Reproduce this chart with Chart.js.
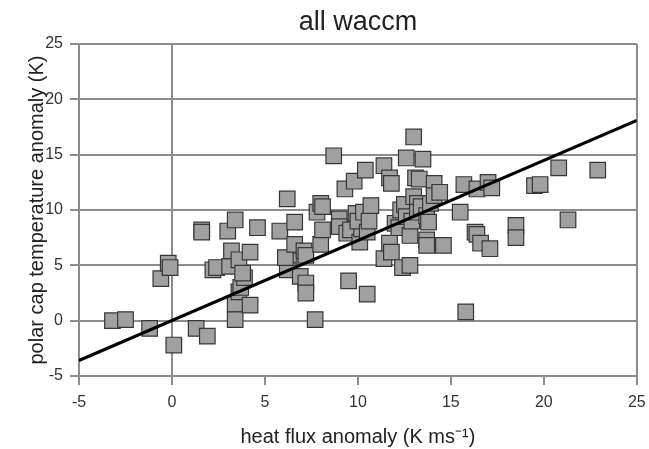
<!DOCTYPE html>
<html>
<head>
<meta charset="utf-8">
<script src="https://cdn.jsdelivr.net/npm/chart.js@4.4.0/dist/chart.umd.min.js"></script>
<style>
  html, body { margin: 0; padding: 0; background: #fff; }
  #wrap { width: 649px; height: 449px; }
</style>
</head>
<body>
<div id="wrap"><canvas id="grafik"></canvas></div>
<script>
// heat flux anomaly (x) vs polar cap temperature anomaly (y)
const fluxValues = [
  -3.2, -2.5, -1.2, -0.6, -0.2, -0.1, 0.1, 1.3, 1.6, 1.6, 1.9, 2.2, 2.4,
  3.0, 3.1, 3.2, 3.4, 3.4, 3.4, 3.6, 3.6, 3.7, 3.9, 3.8, 4.2, 4.2, 4.6,
  5.8, 6.2, 6.3, 6.2, 6.1, 6.6, 6.6, 6.9, 7.1, 7.2, 7.2, 7.2, 7.7,
  7.8, 8.0, 8.1, 8.0, 8.1, 8.7, 9.0, 9.0, 9.3, 9.4, 9.5, 9.8, 9.9, 9.6,
  10.1, 10.2, 10.0, 10.3, 10.4, 10.5, 10.5, 10.6, 10.7, 11.4, 11.4, 11.7,
  11.8, 11.7, 11.8, 12.0, 12.2, 12.3, 12.4, 12.5, 12.6, 12.6, 12.8, 12.8,
  12.9, 13.0, 13.0, 13.1, 13.3, 13.2, 13.2, 13.5, 13.4, 13.7, 13.8, 13.7,
  13.7, 13.9, 14.1, 14.1, 14.4, 14.6, 15.5, 15.7, 15.8, 16.3, 16.4, 16.4,
  16.6, 17.0, 17.2, 17.1, 18.5, 18.5, 19.5, 19.8, 20.8, 21.3, 22.9
];
const tempValues = [
  0.0, 0.1, -0.7, 3.8, 5.2, 4.8, -2.2, -0.7, 8.2, 8.0, -1.4, 4.6, 4.8,
  8.1, 4.9, 6.3, 9.1, 1.5, 0.1, 5.5, 2.6, 3.0, 3.9, 4.3, 6.2, 1.4, 8.4,
  8.1, 11.0, 5.4, 4.6, 5.7, 8.9, 6.9, 4.0, 6.3, 5.9, 3.4, 2.5, 0.1,
  9.8, 10.6, 10.3, 6.9, 8.2, 14.9, 9.2, 8.5, 11.9, 7.9, 3.6, 12.6, 9.7, 8.2,
  7.1, 8.3, 9.0, 9.8, 13.6, 2.4, 8.0, 9.0, 10.4, 14.0, 5.6, 12.9,
  12.4, 7.0, 6.2, 8.8, 8.4, 10.0, 4.8, 10.5, 14.7, 9.4, 5.0, 7.7,
  9.0, 11.2, 16.6, 12.9, 12.8, 10.6, 9.8, 14.6, 10.3, 9.5, 8.9, 7.3,
  6.8, 10.6, 12.4, 11.3, 11.6, 6.8, 9.8, 12.3, 0.8, 8.0, 7.8, 11.9,
  7.0, 12.5, 12.0, 6.5, 8.6, 7.5, 12.2, 12.3, 13.8, 9.1, 13.6
];
// regression line end points
const fitX = [-5, 25];
const fitY = [-3.6, 18.1];

const xTicks = [-5, 0, 5, 10, 15, 20, 25];
const yTicks = [-5, 0, 5, 10, 15, 20, 25];

const noktalar = fluxValues.map((x, i) => ({ x: x, y: tempValues[i] }));
const egri = fitX.map((x, i) => ({ x: x, y: fitY[i] }));

const gri = '#8c8c8c';
const yazi = '#333333';

const ctx = document.getElementById('grafik').getContext('2d');
new Chart(ctx, {
  type: 'scatter',
  data: {
    datasets: [
      {
        // line first so it is drawn on top of the squares
        type: 'line',
        data: egri,
        borderColor: '#000000',
        borderWidth: 3,
        pointRadius: 0,
        fill: false
      },
      {
        data: noktalar,
        pointStyle: 'rect',
        pointRadius: 11,
        pointHoverRadius: 11,
        backgroundColor: '#a0a0a0',
        borderColor: '#363636',
        borderWidth: 1.2
      }
    ]
  },
  options: {
    responsive: true,
    maintainAspectRatio: false,
    animation: false,
    layout: { padding: 0 },
    plugins: {
      legend: { display: false },
      tooltip: { enabled: false },
      title: {
        display: true,
        text: 'all waccm',
        fullSize: false,
        color: '#222222',
        font: { size: 27, family: 'Liberation Sans', weight: 'normal' },
        padding: { top: 6, bottom: 5.6 }
      }
    },
    scales: {
      x: {
        type: 'linear',
        min: -5,
        max: 25,
        afterBuildTicks: scale => { scale.ticks = xTicks.map(v => ({ value: v })); },
        afterFit: scale => {
          scale.height = 73;
          scale.paddingRight = 12;
          scale.paddingLeft = 0;
        },
        border: { color: gri, width: 2 },
        grid: {
          color: c => (c.tick && (c.tick.value === 0 || c.tick.value === 25)) ? gri : 'rgba(0,0,0,0)',
          tickColor: gri,
          lineWidth: 2,
          tickLength: 9
        },
        ticks: {
          color: yazi,
          padding: 8,
          maxRotation: 0,
          font: { size: 16, family: 'Liberation Sans' }
        },
        title: {
          display: true,
          text: 'heat flux anomaly (K ms\u207B\u00B9)',
          color: '#222222',
          font: { size: 20, family: 'Liberation Sans' },
          padding: { top: 0, bottom: 0 }
        }
      },
      y: {
        type: 'linear',
        min: -5,
        max: 25,
        afterBuildTicks: scale => { scale.ticks = yTicks.map(v => ({ value: v })); },
        afterFit: scale => { scale.width = 79; },
        border: { color: gri, width: 2 },
        grid: {
          color: gri,
          tickColor: gri,
          lineWidth: 2,
          tickLength: 9
        },
        ticks: {
          color: yazi,
          padding: 7,
          font: { size: 16, family: 'Liberation Sans' }
        },
        title: {
          display: true,
          text: 'polar cap temperature anomaly (K)',
          color: '#222222',
          font: { size: 20, family: 'Liberation Sans' },
          padding: { top: 25, bottom: 0 }
        }
      }
    }
  }
});
</script>
</body>
</html>
